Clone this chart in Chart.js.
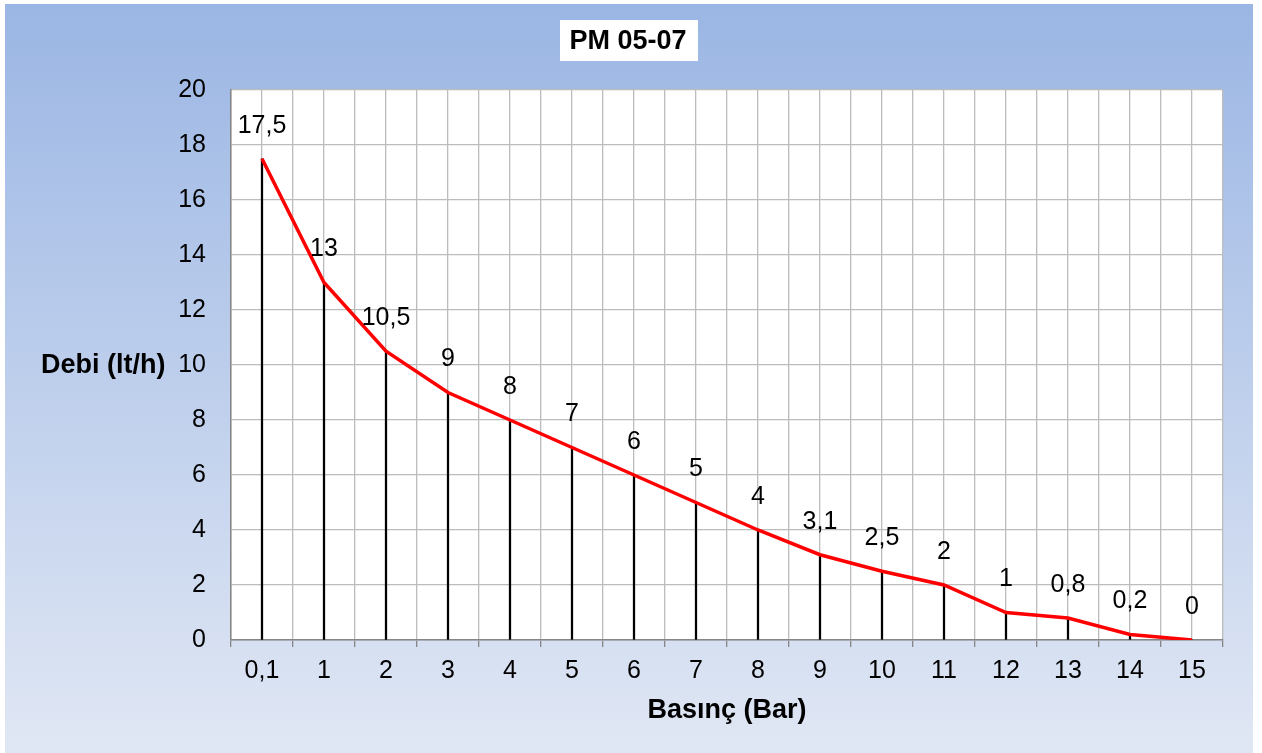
<!DOCTYPE html>
<html lang="tr">
<head>
    <meta charset="UTF-8">
    <title>PM 05-07</title>
    <script src="https://cdn.jsdelivr.net/npm/chart.js"></script>
    <style>
        html, body { margin: 0; padding: 0; background: #fff; }
        canvas { display: block; }
    </style>
</head>
<body>
    <canvas id="chart_pm" width="1262" height="753"></canvas>

    <script>
        // data
        const xLabels = ['0,1', '1', '2', '3', '4', '5', '6', '7', '8', '9', '10', '11', '12', '13', '14', '15'];
        const debi = [17.5, 13, 10.5, 9, 8, 7, 6, 5, 4, 3.1, 2.5, 2, 1, 0.8, 0.2, 0];
        const chartTitle = 'PM 05-07';
        const xTitle = 'Basınç (Bar)';
        const yTitle = 'Debi (lt/h)';

        const points = debi.map((v, i) => ({ x: i, y: v }));
        const fmt = v => String(v).replace('.', ',');

        // background, title box, axis titles, value labels
        const decor = {
            id: 'decor',
            beforeDraw(chart) {
                const c = chart.ctx;
                c.save();
                c.fillStyle = '#ffffff';
                c.fillRect(0, 0, chart.width, chart.height);
                const g = c.createLinearGradient(0, 4, 0, 753);
                g.addColorStop(0, 'rgb(155,182,228)');
                g.addColorStop(1, 'rgb(224,231,244)');
                c.fillStyle = g;
                c.fillRect(5, 4, 1248, 749);
                const a = chart.chartArea;
                c.fillStyle = '#ffffff';
                c.fillRect(a.left, a.top, a.right - a.left, a.bottom - a.top);
                c.restore();
            },
            afterDraw(chart) {
                const c = chart.ctx;
                const a = chart.chartArea;
                c.save();
                // title box
                c.fillStyle = '#ffffff';
                c.fillRect(560, 20, 138, 41);
                c.fillStyle = '#000';
                c.font = 'bold 27px "Liberation Sans", Arial, sans-serif';
                c.textAlign = 'center';
                c.textBaseline = 'middle';
                c.fillText(chartTitle, 628, 42);
                // axis titles
                c.fillText(xTitle, (a.left + a.right) / 2, 711);
                c.textAlign = 'left';
                c.fillText(yTitle, 41, 366);
                // value labels
                const meta = chart.getDatasetMeta(1);
                c.font = '25px "Liberation Sans", Arial, sans-serif';
                c.textAlign = 'center';
                meta.data.forEach((pt, i) => {
                    c.fillText(fmt(debi[i]), pt.x, pt.y - 33);
                });
                c.restore();
            }
        };

        const ctx = document.getElementById('chart_pm').getContext('2d');
        new Chart(ctx, {
            type: 'line',
            data: {
                datasets: [
                    {
                        type: 'bar',
                        label: 'drop',
                        data: points,
                        backgroundColor: '#000000',
                        barThickness: 1.6,
                        grouped: false,
                        order: 2
                    },
                    {
                        type: 'line',
                        label: 'Debi',
                        data: points,
                        borderColor: '#ff0000',
                        borderWidth: 3.5,
                        pointRadius: 0,
                        tension: 0,
                        fill: false,
                        order: 1
                    }
                ]
            },
            options: {
                responsive: false,
                devicePixelRatio: 1,
                animation: false,
                layout: { padding: { left: 0, top: 90, right: 39, bottom: 0 } },
                plugins: {
                    legend: { display: false },
                    tooltip: { enabled: false },
                    title: { display: false }
                },
                scales: {
                    x: {
                        type: 'linear',
                        min: -0.5,
                        max: 15.5,
                        offset: false,
                        afterFit: s => { s.height = 113; },
                        border: { color: '#868686', width: 1.5 },
                        grid: {
                            offset: false,
                            color: '#bcbcbc',
                            lineWidth: 1.3,
                            tickLength: 7,
                            tickColor: c => (c.tick && !Number.isInteger(c.tick.value)) ? '#868686' : 'rgba(0,0,0,0)'
                        },
                        ticks: {
                            stepSize: 0.5,
                            autoSkip: false,
                            maxRotation: 0,
                            padding: 9,
                            color: '#000',
                            font: { family: '"Liberation Sans", Arial, sans-serif', size: 25 },
                            callback: v => Number.isInteger(v) ? xLabels[v] : ''
                        }
                    },
                    y: {
                        min: 0,
                        max: 20,
                        afterFit: s => { s.width = 231; },
                        border: { color: '#868686', width: 1.5 },
                        grid: { color: '#bcbcbc', lineWidth: 1.3, drawTicks: false },
                        ticks: {
                            stepSize: 2,
                            padding: 25,
                            color: '#000',
                            font: { family: '"Liberation Sans", Arial, sans-serif', size: 25 }
                        }
                    }
                }
            },
            plugins: [decor]
        });
    </script>
</body>
</html>
